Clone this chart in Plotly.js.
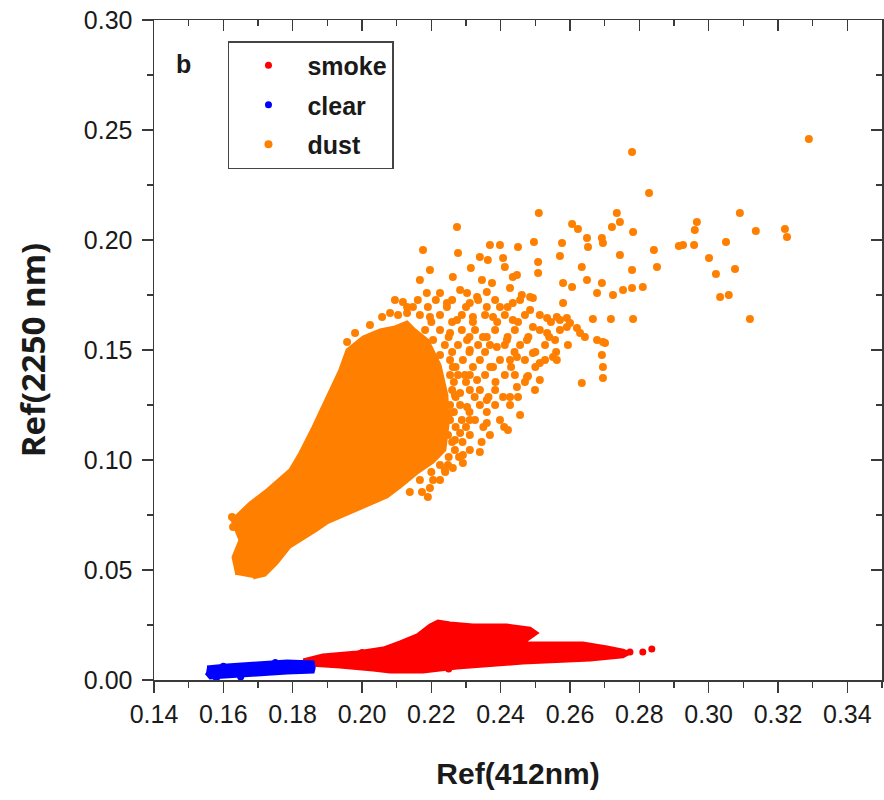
<!DOCTYPE html>
<html>
<head>
<meta charset="utf-8">
<script src="https://cdn.plot.ly/plotly-3.0.1.min.js"></script>
<style>html,body{margin:0;padding:0;background:#fff;}#chart{width:884px;height:800px;}</style>
</head>
<body>
<div id="chart"></div>
<script>
// ---- smoke (red): outline of the dense cloud + isolated points ----
const smokeCoreX = [0.1830,0.1887,0.1986,0.2061,0.2110,0.2159,0.2196,0.2219,0.2254,0.2320,0.2418,0.2485,0.2505,0.2464,0.2522,0.2637,0.2707,0.2753,0.2773,0.2753,0.2658,0.2464,0.2274,0.2176,0.2081,0.2032,0.1936,0.1850,0.1830];
const smokeCoreY = [0.0091,0.0114,0.0127,0.0145,0.0173,0.0205,0.0250,0.0268,0.0259,0.0250,0.0250,0.0236,0.0214,0.0168,0.0168,0.0168,0.0150,0.0136,0.0123,0.0105,0.0091,0.0077,0.0055,0.0036,0.0036,0.0045,0.0059,0.0068,0.0082];
const smokeX = [0.2773,0.2810,0.2836,0.2000,0.2250,0.2400];
const smokeY = [0.0127,0.0127,0.0141,0.0125,0.0050,0.0150];

// ---- clear (blue) ----
const clearCoreX = [0.1553,0.1611,0.1697,0.1784,0.1859,0.1862,0.1859,0.1784,0.1697,0.1611,0.1562,0.1550];
const clearCoreY = [0.0059,0.0068,0.0077,0.0086,0.0082,0.0055,0.0036,0.0032,0.0023,0.0014,0.0009,0.0032];
const clearX = [0.1580,0.1650,0.1600,0.1750];
const clearY = [0.0009,0.0014,0.0062,0.0080];

// ---- dust (orange) ----
const dustCoreX = [0.1639,0.1628,0.1648,0.1625,0.1677,0.1726,0.1792,0.1821,0.1859,0.1908,0.1936,0.1957,0.2003,0.2052,0.2095,0.2130,0.2153,0.2190,0.2225,0.2245,0.2248,0.2239,0.2205,0.2159,0.2110,0.2072,0.1965,0.1899,0.1870,0.1792,0.1755,0.1720,0.1686];
const dustCoreY = [0.0477,0.0559,0.0636,0.0727,0.0805,0.0864,0.0955,0.1032,0.1150,0.1318,0.1409,0.1500,0.1559,0.1591,0.1605,0.1627,0.1591,0.1545,0.1432,0.1295,0.1159,0.1045,0.0991,0.0941,0.0877,0.0832,0.0759,0.0714,0.0682,0.0605,0.0532,0.0477,0.0464];
const dustX = [0.3289,0.2779,0.2828,0.2510,0.2274,0.2735,0.2744,0.2721,0.2606,0.2623,0.2782,0.2966,0.2960,0.3090,0.3136,0.3220,0.3226,0.3050,0.2914,0.2926,
0.2958,0.2842,0.2851,0.3001,0.3021,0.3076,0.3033,0.3058,0.3119,0.2810,0.2779,0.2744,0.2782,0.2718,0.2666,0.2695,0.2692,0.2695,0.2695,0.2634,
0.2678,0.2643,0.2513,0.2479,0.2571,0.2580,0.2577,0.2649,0.2652,0.2692,0.2695,0.2634,0.2649,0.2678,0.2692,0.2753,0.2779,0.2496,0.2450,0.2369,
0.2398,0.2508,0.2508,0.2407,0.2412,0.2340,0.2277,0.2314,0.2447,0.2427,0.2461,0.2493,0.2534,0.2571,0.2600,0.2620,0.2629,
0.2176,0.2363,0.2196,0.2262,0.2167,0.2346,0.2375,0.2435,0.2606,0.2187,0.2225,0.2283,0.2303,0.2332,0.2360,0.2485,0.2580,0.2724,
0.2118,0.2147,0.2245,0.2311,0.2360,0.2398,0.2435,0.2485,0.2562,0.2591,0.2058,0.2081,0.2130,0.2196,0.2274,0.2320,0.2378,0.2435,0.2493,0.2534,
0.2591,0.2701,0.2557,0.2551,0.2562,0.2513,0.2493,0.2447,0.2427,0.2476,0.2418,0.2389,0.2349,0.2303,0.2254,0.2205,0.2476,0.2447,0.2407,0.2427,
0.2360,0.2456,0.2360,0.2421,0.2303,0.2332,0.2378,0.2262,0.2283,0.2254,0.2283,0.2340,0.2291,0.2291,0.2262,0.2205,0.2196,0.2225,0.2190,
0.2297,0.2311,0.2268,0.2239,0.2311,0.2225,0.2268,0.1625,0.1628,0.1957,0.1980,0.2023,
0.2095,0.2161,0.2213,0.2260,0.2335,0.2384,0.2456,
0.2104,0.2167,0.2225,0.2288,0.2355,0.2412,0.2470,0.2513,
0.2182,0.2225,0.2288,0.2326,0.2384,0.2441,0.2513,0.2571,
0.2239,0.2277,0.2335,0.2369,0.2412,0.2456,0.2528,0.2594,
0.2254,0.2291,0.2340,0.2398,0.2470,0.2528,
0.2254,0.2277,0.2311,0.2355,0.2412,0.2441,
0.2260,0.2311,0.2340,0.2384,0.2499,
0.2254,0.2283,0.2340,0.2384,0.2427,
0.2254,0.2288,0.2326,0.2398,
0.2248,0.2311,0.2369,
0.2268,0.2311,
0.2225,0.2248,
0.2167,0.2225,
0.2138,0.2173,
0.2130,0.2190,0.2245,0.2300,0.2420,
0.2200,0.2260,0.2320,0.2390,0.2450,0.2545,
0.2250,0.2310,0.2360,0.2420,0.2480,0.2540,
0.2260,0.2310,0.2355,0.2440,0.2500,0.2560,
0.2270,0.2320,0.2370,0.2430,0.2500,
0.2265,0.2300,0.2385,0.2470,
0.2270,0.2325,0.2365,0.2450,
0.2265,0.2310,0.2360,
0.2270,0.2300,0.2350,0.2410,
0.2260,0.2290,0.2345,
0.2250,0.2280,
0.2200,0.2240];
const dustY = [0.2459,0.2400,0.2214,0.2123,0.2059,0.2123,0.2082,0.2059,0.2073,0.2050,0.2036,0.2082,0.2045,0.2123,0.2041,0.2050,0.2014,0.1991,0.1973,0.1977,
0.1977,0.1955,0.1877,0.1918,0.1845,0.1868,0.1741,0.1750,0.1641,0.1786,0.1864,0.1932,0.1641,0.1641,0.1641,0.1536,0.1477,0.1423,0.1373,0.1350,
0.1545,0.1559,0.1364,0.1382,0.1927,0.1805,0.1986,0.2009,0.1968,0.2009,0.1986,0.1877,0.1818,0.1759,0.1805,0.1773,0.1782,0.1991,0.1968,0.1977,
0.1977,0.1900,0.1850,0.1918,0.1877,0.1923,0.1941,0.1873,0.1841,0.1782,0.1750,0.1736,0.1645,0.1636,0.1623,0.1600,0.1577,
0.1955,0.1909,0.1864,0.1832,0.1818,0.1818,0.1805,0.1832,0.1786,0.1759,0.1759,0.1773,0.1759,0.1741,0.1764,0.1741,0.1714,0.1750,
0.1718,0.1695,0.1714,0.1714,0.1695,0.1695,0.1714,0.1682,0.1650,0.1645,0.1650,0.1668,0.1668,0.1650,0.1636,0.1650,0.1650,0.1636,0.1605,0.1577,
0.1605,0.1532,0.1545,0.1468,0.1455,0.1441,0.1486,0.1468,0.1455,0.1545,0.1545,0.1514,0.1559,0.1545,0.1577,0.1545,0.1377,0.1332,0.1286,0.1286,
0.1273,0.1205,0.1168,0.1136,0.1241,0.1364,0.1423,0.1423,0.1305,0.1214,0.1123,0.1036,0.1023,0.0986,0.0964,0.0909,0.0873,0.1059,0.0832,
0.1386,0.1182,0.1091,0.0955,0.1500,0.1477,0.1295,0.0741,0.0695,0.1536,0.1577,0.1614,
0.1727,0.1727,0.1727,0.1727,0.1727,0.1727,0.1727,
0.1659,0.1659,0.1659,0.1659,0.1659,0.1659,0.1659,0.1659,
0.1591,0.1591,0.1591,0.1591,0.1591,0.1591,0.1591,0.1591,
0.1523,0.1523,0.1523,0.1523,0.1523,0.1523,0.1523,0.1523,
0.1455,0.1455,0.1455,0.1455,0.1455,0.1455,
0.1386,0.1386,0.1386,0.1386,0.1386,0.1386,
0.1318,0.1318,0.1318,0.1318,0.1318,
0.1250,0.1250,0.1250,0.1250,0.1250,
0.1182,0.1182,0.1182,0.1182,
0.1114,0.1114,0.1114,
0.1045,0.1045,
0.0977,0.0977,
0.0909,0.0909,
0.0855,0.0855,
0.1695,0.1695,0.1695,0.1695,0.1695,
0.1627,0.1627,0.1627,0.1627,0.1627,0.1627,
0.1559,0.1559,0.1559,0.1559,0.1559,0.1559,
0.1491,0.1491,0.1491,0.1491,0.1491,0.1491,
0.1423,0.1423,0.1423,0.1423,0.1423,
0.1355,0.1355,0.1355,0.1355,
0.1286,0.1286,0.1286,0.1286,
0.1218,0.1218,0.1218,
0.1150,0.1150,0.1150,0.1150,
0.1082,0.1082,0.1082,
0.1014,0.1014,
0.0945,0.0945];

const xTicks = [0.14,0.16,0.18,0.20,0.22,0.24,0.26,0.28,0.30,0.32,0.34];
const yTicks = [0.00,0.05,0.10,0.15,0.20,0.25,0.30];

const RED = '#ff0000', BLUE = '#0000ff', ORANGE = '#ff8000';

function core(x, y, c) {
  return {x: x, y: y, type: 'scatter', mode: 'lines', fill: 'toself', fillcolor: c,
    line: {color: c, width: 3}, showlegend: false, hoverinfo: 'skip'};
}
function pts(x, y, c, name, size, g) {
  return {x: x, y: y, type: 'scatter', mode: 'markers', name: name, legendgroup: g,
    marker: {color: c, size: size}, hoverinfo: 'skip'};
}

const data = [
  core(dustCoreX, dustCoreY, ORANGE),
  core(smokeCoreX, smokeCoreY, RED),
  core(clearCoreX, clearCoreY, BLUE),
  pts(smokeX, smokeY, RED, 'smoke', 7, 'a'),
  pts(clearX, clearY, BLUE, 'clear', 7, 'b'),
  pts(dustX, dustY, ORANGE, 'dust', 8, 'c'),
  {x: [], y: [], xaxis: 'x2', yaxis: 'y2', type: 'scatter', mode: 'markers', showlegend: false, hoverinfo: 'skip'}
];

const tickFont = {family: 'Liberation Sans, Arial, sans-serif', size: 25, color: '#1a1a1a'};
const AX = '#3a3a3a';

const layout = {
  width: 884, height: 800,
  margin: {l: 154, r: 2, t: 20, b: 120},
  paper_bgcolor: '#fff', plot_bgcolor: '#fff',
  showlegend: true,
  xaxis: {
    range: [0.14, 0.35], tickvals: xTicks, ticktext: xTicks.map(v => v.toFixed(2)),
    ticks: 'outside', ticklen: 11, tickwidth: 1.5, tickcolor: AX,
    minor: {ticks: 'outside', dtick: 0.01, tick0: 0.14, ticklen: 6, tickwidth: 1.5, tickcolor: AX},
    showline: true, linecolor: AX, linewidth: 1.5, showgrid: false, zeroline: false,
    tickfont: tickFont, automargin: false,
    title: {text: 'Ref(412nm)', font: {family: 'Liberation Sans, Arial, sans-serif', size: 30, weight: 'bold', color: '#1a1a1a'}, standoff: 36}
  },
  yaxis: {
    range: [0, 0.30], tickvals: yTicks, ticktext: yTicks.map(v => v.toFixed(2)),
    ticks: 'outside', ticklen: 11, tickwidth: 1.5, tickcolor: AX,
    minor: {ticks: 'outside', dtick: 0.025, tick0: 0, ticklen: 6, tickwidth: 1.5, tickcolor: AX},
    showline: true, linecolor: AX, linewidth: 1.5, showgrid: false, zeroline: false,
    tickfont: tickFont, automargin: false, ticklabelstandoff: 4,
    title: {text: 'Ref(2250 nm)', font: {family: 'Open Sans, sans-serif', size: 33, weight: 'bold', color: '#1a1a1a'}, standoff: 28}
  },
  xaxis2: {
    overlaying: 'x', side: 'top', anchor: 'y', range: [0.14, 0.35], tickvals: xTicks,
    showticklabels: false, ticks: 'inside', ticklen: 11, tickwidth: 1.5, tickcolor: AX,
    minor: {ticks: 'inside', dtick: 0.01, tick0: 0.14, ticklen: 6, tickwidth: 1.5, tickcolor: AX},
    showline: true, linecolor: AX, linewidth: 1.5, showgrid: false, zeroline: false
  },
  yaxis2: {
    overlaying: 'y', side: 'right', anchor: 'x', range: [0, 0.30], tickvals: yTicks,
    showticklabels: false, ticks: 'inside', ticklen: 11, tickwidth: 1.5, tickcolor: AX,
    minor: {ticks: 'inside', dtick: 0.025, tick0: 0, ticklen: 6, tickwidth: 1.5, tickcolor: AX},
    showline: true, linecolor: AX, linewidth: 1.5, showgrid: false, zeroline: false
  },
  legend: {
    x: 0.1016, y: 0.968, xanchor: 'left', yanchor: 'top',
    bgcolor: '#fff', bordercolor: '#444', borderwidth: 1.5,
    font: {family: 'Liberation Sans, Arial, sans-serif', size: 25, weight: 'bold', color: '#1a1a1a'},
    traceorder: 'grouped', tracegroupgap: 4, itemwidth: 68
  },
  annotations: [{
    xref: 'paper', yref: 'paper', x: 0.040, y: 0.933, xanchor: 'center', yanchor: 'middle',
    text: 'b', showarrow: false,
    font: {family: 'Liberation Sans, Arial, sans-serif', size: 25, weight: 'bold', color: '#1a1a1a'}
  }]
};

Plotly.newPlot('chart', data, layout, {staticPlot: true, displayModeBar: false});
</script>
</body>
</html>
